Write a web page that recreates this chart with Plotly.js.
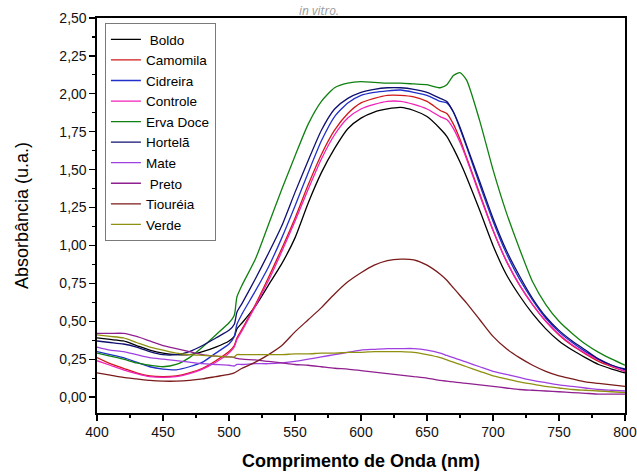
<!DOCTYPE html>
<html>
<head>
<meta charset="utf-8">
<script src="https://cdn.plot.ly/plotly-3.0.1.min.js"></script>
<style>html,body{margin:0;padding:0;background:#fff;}#chart{width:637px;height:472px;}</style>
</head>
<body>
<div id="chart"></div>
<script>
const wavelength = [400,410,420,430,440,450,460,470,480,490,500,504,506,510,520,530,540,550,560,570,580,590,600,610,620,630,640,650,660,665,670,675,680,690,700,710,720,730,740,750,760,770,780,790,800];

const boldo    = [0.39,0.38,0.37,0.34,0.31,0.29,0.28,0.28,0.30,0.33,0.37,0.40,0.45,0.49,0.60,0.74,0.88,1.05,1.28,1.48,1.64,1.77,1.84,1.88,1.90,1.91,1.89,1.85,1.77,1.72,1.64,1.55,1.45,1.23,1.00,0.81,0.67,0.55,0.45,0.37,0.31,0.26,0.215,0.185,0.16];
const camomila = [0.26,0.22,0.19,0.16,0.14,0.135,0.14,0.16,0.19,0.24,0.30,0.34,0.39,0.45,0.61,0.79,0.98,1.18,1.40,1.60,1.76,1.87,1.94,1.97,1.99,1.99,1.98,1.95,1.89,1.87,1.80,1.70,1.58,1.34,1.10,0.90,0.74,0.61,0.50,0.41,0.34,0.285,0.235,0.20,0.17];
const cidreira = [0.30,0.28,0.26,0.23,0.20,0.185,0.18,0.20,0.23,0.29,0.35,0.40,0.48,0.55,0.70,0.86,1.05,1.26,1.48,1.69,1.85,1.94,1.99,2.01,2.02,2.025,2.01,1.99,1.95,1.94,1.88,1.77,1.65,1.40,1.16,0.95,0.78,0.64,0.52,0.43,0.36,0.30,0.25,0.21,0.18];
const controle = [0.24,0.21,0.18,0.155,0.135,0.13,0.135,0.155,0.185,0.23,0.29,0.33,0.38,0.44,0.60,0.77,0.96,1.16,1.37,1.57,1.73,1.84,1.90,1.93,1.95,1.95,1.93,1.90,1.85,1.83,1.77,1.68,1.57,1.33,1.10,0.90,0.74,0.61,0.50,0.415,0.345,0.29,0.245,0.205,0.17];
const ervaDoce = [0.29,0.27,0.25,0.225,0.21,0.20,0.215,0.26,0.33,0.41,0.49,0.54,0.66,0.74,0.91,1.14,1.37,1.59,1.80,1.95,2.04,2.07,2.08,2.075,2.07,2.07,2.065,2.06,2.04,2.06,2.12,2.14,2.09,1.82,1.50,1.22,0.98,0.76,0.61,0.50,0.42,0.35,0.295,0.25,0.21];
const hortela  = [0.37,0.36,0.35,0.33,0.30,0.28,0.28,0.30,0.34,0.39,0.44,0.48,0.56,0.62,0.78,0.95,1.13,1.35,1.56,1.76,1.90,1.97,2.01,2.03,2.04,2.04,2.03,2.01,1.97,1.95,1.88,1.78,1.66,1.42,1.18,0.97,0.80,0.65,0.53,0.44,0.37,0.31,0.25,0.21,0.185];
const mate     = [0.33,0.31,0.30,0.28,0.26,0.25,0.24,0.23,0.22,0.215,0.21,0.205,0.215,0.215,0.22,0.22,0.225,0.235,0.25,0.265,0.28,0.295,0.31,0.315,0.32,0.32,0.32,0.31,0.29,0.275,0.26,0.245,0.23,0.20,0.17,0.15,0.13,0.11,0.095,0.08,0.07,0.06,0.05,0.045,0.04];
const preto    = [0.42,0.42,0.42,0.40,0.37,0.34,0.32,0.30,0.28,0.27,0.265,0.26,0.255,0.25,0.245,0.235,0.225,0.215,0.21,0.20,0.19,0.185,0.175,0.165,0.155,0.145,0.135,0.125,0.11,0.105,0.10,0.095,0.09,0.08,0.07,0.06,0.05,0.045,0.04,0.035,0.03,0.025,0.02,0.02,0.02];
const tioureia = [0.16,0.145,0.13,0.12,0.11,0.105,0.105,0.11,0.12,0.135,0.15,0.16,0.17,0.19,0.23,0.28,0.34,0.43,0.51,0.59,0.68,0.76,0.82,0.87,0.90,0.91,0.905,0.87,0.81,0.77,0.72,0.67,0.62,0.51,0.40,0.32,0.26,0.21,0.17,0.14,0.12,0.10,0.09,0.08,0.07];
const verde    = [0.41,0.40,0.39,0.36,0.33,0.31,0.29,0.28,0.275,0.27,0.265,0.265,0.28,0.28,0.28,0.28,0.28,0.285,0.285,0.29,0.29,0.295,0.295,0.30,0.30,0.30,0.295,0.28,0.26,0.245,0.23,0.215,0.20,0.17,0.14,0.12,0.10,0.085,0.07,0.06,0.05,0.045,0.04,0.035,0.03];

const seriesNames  = ['\u00a0Boldo','Camomila','Cidreira','Controle','Erva Doce','Hortelã','Mate','\u00a0Preto','Tiouréia','Verde'];
const seriesValues = [boldo,camomila,cidreira,controle,ervaDoce,hortela,mate,preto,tioureia,verde];
const seriesColors = ['#000000','#d01818','#2030c8','#f020b8','#108010','#101070','#a040e0','#902090','#7a1a1a','#909010'];

const traces = seriesNames.map((n,i)=>({
  x: wavelength, y: seriesValues[i], name: n, type:'scatter', mode:'lines',
  line:{color: seriesColors[i], width:1.3, shape:'spline', smoothing:0.6}
}));

const font = 'Liberation Sans, Arial, sans-serif';
const layout = {
  width:637, height:472,
  margin:{l:97, r:12, t:18, b:59},
  paper_bgcolor:'#fff', plot_bgcolor:'#fff',
  separators:',.',
  font:{family:font, size:12, color:'#000'},
  annotations:[{text:'<i>in vitro.</i>', xref:'paper', yref:'paper', x:0.42, xanchor:'center', y:1.043, yanchor:'top', showarrow:false, borderpad:0,
    font:{family:'Open Sans, sans-serif', size:12, color:'#9a9a9a'}}],
  showlegend:true,
  legend:{x:0.015, y:0.987, xanchor:'left', yanchor:'top', bgcolor:'#fff', bordercolor:'#7a7a7a', borderwidth:1, font:{family:font, size:13.5, color:'#000'}, tracegroupgap:0, itemwidth:30},
  xaxis:{range:[400,800], dtick:50, tick0:400, ticks:'outside', ticklen:6, tickwidth:1.3, tickcolor:'#000',
    showline:true, linecolor:'#000', linewidth:1.6, mirror:true, showgrid:false, zeroline:false,
    minor:{dtick:25, ticks:'outside', ticklen:3, tickwidth:1.2, tickcolor:'#000', showgrid:false},
    tickfont:{family:font, size:14, color:'#111'},
    title:{text:'<b>Comprimento de Onda (nm)</b>', font:{family:font, size:18, color:'#000'}, standoff:15}},
  yaxis:{range:[-0.105,2.5], dtick:0.25, tick0:0, tickformat:'.2f', ticks:'outside', ticklen:6, tickwidth:1.3, tickcolor:'#000',
    showline:true, linecolor:'#000', linewidth:1.6, mirror:true, showgrid:false, zeroline:false,
    minor:{dtick:0.125, ticks:'outside', ticklen:3, tickwidth:1.2, tickcolor:'#000', showgrid:false},
    tickfont:{family:font, size:14, color:'#111'},
    title:{text:'Absorbância (u.a.)', font:{family:font, size:18, color:'#000'}, standoff:26}}
};
Plotly.newPlot('chart', traces, layout, {displayModeBar:false, staticPlot:true});
</script>
</body>
</html>
